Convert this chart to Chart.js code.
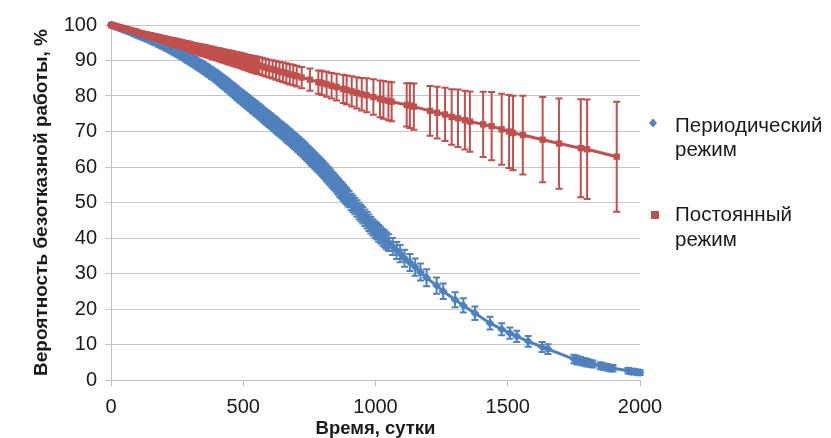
<!DOCTYPE html>
<html>
<head>
<meta charset="utf-8">
<script src="https://cdn.jsdelivr.net/npm/chart.js@4.4.1/dist/chart.umd.min.js"></script>
<style>
  html, body { margin: 0; padding: 0; background: #fff; }
  #wrap { width: 831px; height: 438px; position: relative; }
</style>
</head>
<body>
<div id="wrap"><canvas id="c" width="831" height="438"></canvas></div>
<script>
// Периодический режим: время (сутки), вероятность (%), полуширина доверительного интервала (%)
const periodicDays = [
  0, 5, 10, 15, 20, 25, 30, 35, 40, 45, 50, 55, 60, 65, 70, 75, 80, 85, 90, 95,
  100, 105, 110, 115, 120, 125, 130, 135, 140, 145, 150, 155, 160, 165, 170, 175, 180, 185, 190, 195,
  200, 205, 210, 215, 220, 225, 230, 235, 240, 245, 250, 255, 260, 265, 270, 275, 280, 285, 290, 295,
  300, 305, 310, 315, 320, 325, 330, 335, 340, 345, 350, 355, 360, 365, 370, 375, 380, 385, 390, 395,
  400, 405, 410, 415, 420, 425, 430, 435, 440, 445, 450, 455, 460, 465, 470, 475, 480, 485, 490, 495,
  500, 505, 510, 515, 520, 525, 530, 535, 540, 545, 550, 555, 560, 565, 570, 575, 580, 585, 590, 595,
  600, 605, 610, 615, 620, 625, 630, 635, 640, 645, 650, 655, 660, 665, 670, 675, 680, 685, 690, 695,
  700, 705, 710, 715, 720, 725, 730, 735, 740, 745, 750, 755, 760, 765, 770, 775, 780, 785, 790, 795,
  800, 805, 810, 815, 820, 825, 830, 835, 840, 845, 850, 855, 860, 865, 870, 875, 880, 885, 890, 895,
  900, 908, 915, 922, 930, 938, 945, 952, 960, 968, 975, 982, 990, 998, 1005, 1012, 1020, 1028, 1035, 1042, 1050,
  1065, 1080, 1093, 1110, 1130, 1150, 1170,
  1193, 1231, 1256, 1301, 1332, 1376, 1433, 1477, 1508, 1534, 1577, 1630, 1652,
  1750, 1762, 1775, 1788, 1800, 1811, 1822, 1850, 1862, 1875, 1887, 1898, 1955, 1968, 1980, 1990, 2000
];
const periodicProb = [
  100, 99.9, 99.8, 99.6, 99.5, 99.4, 99.2, 99.1, 99.0, 98.8, 98.7, 98.5, 98.4, 98.3, 98.2, 98.0, 97.9, 97.7, 97.6, 97.4,
  97.3, 97.1, 97.0, 96.9, 96.7, 96.6, 96.5, 96.3, 96.2, 96.0, 95.9, 95.7, 95.6, 95.4, 95.3, 95.1, 94.9, 94.8, 94.6, 94.4,
  94.3, 94.1, 93.9, 93.8, 93.6, 93.4, 93.2, 93.0, 92.8, 92.6, 92.4, 92.2, 92.0, 91.8, 91.6, 91.4, 91.2, 90.9, 90.7, 90.5,
  90.3, 90.0, 89.8, 89.6, 89.4, 89.1, 88.9, 88.7, 88.5, 88.2, 88.0, 87.7, 87.5, 87.2, 86.9, 86.7, 86.4, 86.2, 85.9, 85.7,
  85.4, 85.1, 84.8, 84.5, 84.2, 83.9, 83.6, 83.3, 83.0, 82.7, 82.4, 82.1, 81.8, 81.5, 81.2, 80.8, 80.5, 80.2, 79.9, 79.6,
  79.3, 79.0, 78.7, 78.4, 78.1, 77.8, 77.5, 77.2, 76.9, 76.6, 76.3, 76.0, 75.7, 75.4, 75.1, 74.7, 74.4, 74.1, 73.8, 73.5,
  73.2, 72.9, 72.6, 72.3, 72.0, 71.6, 71.3, 71.0, 70.7, 70.4, 70.1, 69.8, 69.5, 69.1, 68.8, 68.5, 68.2, 67.8, 67.5, 67.2,
  66.9, 66.5, 66.2, 65.8, 65.5, 65.1, 64.8, 64.4, 64.0, 63.7, 63.3, 62.9, 62.5, 62.2, 61.8, 61.4, 61.0, 60.7, 60.3, 59.9,
  59.5, 59.1, 58.7, 58.2, 57.8, 57.4, 57.0, 56.5, 56.1, 55.7, 55.3, 54.8, 54.4, 53.9, 53.5, 53.1, 52.7, 52.2, 51.8, 51.3,
  50.9, 50.2, 49.6, 49.0, 48.3, 47.6, 47.0, 46.4, 45.7, 45.0, 44.3, 43.6, 43.0, 42.4, 41.9, 41.3, 40.8, 40.2, 39.7, 39.2, 38.7,
  37.6, 36.5, 35.6, 34.3, 33.1, 31.8, 30.4,
  28.8, 26.6, 25.0, 22.6, 21.0, 18.8, 16.0, 14.3, 13.2, 12.3, 10.9, 9.3, 8.7,
  5.9, 5.6, 5.4, 5.1, 4.9, 4.7, 4.5, 4.0, 3.8, 3.6, 3.4, 3.3, 2.6, 2.4, 2.3, 2.2, 2.1
];
const periodicErr = [
  0, 0.1, 0.2, 0.25, 0.3, 0.35, 0.4, 0.42, 0.45, 0.48, 0.5, 0.52, 0.55, 0.58, 0.6, 0.62, 0.65, 0.68, 0.7, 0.72,
  0.75, 0.78, 0.8, 0.8, 0.8, 0.82, 0.85, 0.85, 0.85, 0.88, 0.9, 0.92, 0.95, 0.95, 0.95, 0.98, 1.0, 1.02, 1.05, 1.05,
  1.05, 1.08, 1.1, 1.1, 1.1, 1.12, 1.15, 1.18, 1.2, 1.2, 1.2, 1.22, 1.25, 1.25, 1.25, 1.28, 1.3, 1.3, 1.3, 1.32,
  1.35, 1.35, 1.35, 1.38, 1.4, 1.4, 1.4, 1.42, 1.45, 1.45, 1.45, 1.48, 1.5, 1.5, 1.5, 1.52, 1.55, 1.55, 1.55, 1.58,
  1.6, 1.6, 1.6, 1.62, 1.65, 1.65, 1.65, 1.68, 1.7, 1.7, 1.7, 1.72, 1.75, 1.75, 1.75, 1.78, 1.8, 1.8, 1.8, 1.8,
  1.8, 1.82, 1.85, 1.85, 1.85, 1.88, 1.9, 1.9, 1.9, 1.9, 1.9, 1.92, 1.95, 1.95, 1.95, 1.95, 1.95, 1.98, 2.0, 2.0,
  2.0, 2.0, 2.0, 2.02, 2.05, 2.05, 2.05, 2.05, 2.05, 2.05, 2.05, 2.08, 2.1, 2.1, 2.1, 2.1, 2.1, 2.1, 2.1, 2.1,
  2.1, 2.12, 2.15, 2.15, 2.15, 2.15, 2.15, 2.15, 2.15, 2.15, 2.15, 2.18, 2.2, 2.2, 2.2, 2.2, 2.2, 2.2, 2.2, 2.2,
  2.2, 2.2, 2.2, 2.2, 2.2, 2.2, 2.2, 2.2, 2.2, 2.2, 2.2, 2.22, 2.25, 2.25, 2.25, 2.25, 2.25, 2.25, 2.25, 2.25,
  2.25, 2.28, 2.3, 2.3, 2.3, 2.3, 2.3, 2.3, 2.3, 2.3, 2.3, 2.3, 2.3, 2.32, 2.33, 2.35, 2.35, 2.35, 2.35, 2.35, 2.35,
  2.4, 2.4, 2.4, 2.4, 2.4, 2.4, 2.4,
  2.4, 2.3, 2.2, 2.1, 2.0, 1.9, 1.8, 1.7, 1.6, 1.6, 1.5, 1.4, 1.4,
  1.2, 1.2, 1.1, 1.1, 1.1, 1.0, 1.0, 1.0, 0.9, 0.9, 0.9, 0.9, 0.8, 0.8, 0.7, 0.7, 0.7
];

// Постоянный режим
const constantDays = [
  0, 5, 10, 15, 20, 25, 30, 35, 40, 45, 50, 55, 60, 65, 70, 75, 80, 85, 90, 95,
  100, 105, 110, 115, 120, 125, 130, 135, 140, 145, 150, 155, 160, 165, 170, 175, 180, 185, 190, 195,
  200, 205, 210, 215, 220, 225, 230, 235, 240, 245, 250, 255, 260, 265, 270, 275, 280, 285, 290, 295,
  300, 305, 310, 315, 320, 325, 330, 335, 340, 345, 350, 355, 360, 365, 370, 375, 380, 385, 390, 395,
  400, 405, 410, 415, 420, 425, 430, 435, 440, 445, 450, 455, 460, 465, 470, 475, 480, 485, 490, 495,
  500, 505, 510, 515, 520, 525, 530, 535, 540, 545, 550, 555, 560,
  572, 585, 598, 611, 624, 637, 650, 663, 676, 689,
  702, 721, 752, 784, 797, 815, 834, 853, 878, 891,
  910, 929, 948, 967, 992, 1017, 1030, 1049, 1061, 1118, 1130, 1145,
  1206, 1233, 1263, 1288, 1312, 1338, 1357, 1407, 1439, 1477, 1505, 1520, 1557, 1632, 1694, 1776, 1800, 1912
];
const constantProb = [
  100, 99.9, 99.8, 99.7, 99.6, 99.5, 99.4, 99.3, 99.2, 99.1, 99.0, 98.9, 98.8, 98.7, 98.6, 98.5, 98.4, 98.3, 98.2, 98.1,
  97.9, 97.8, 97.7, 97.6, 97.5, 97.4, 97.3, 97.2, 97.1, 97.0, 96.9, 96.8, 96.7, 96.6, 96.5, 96.4, 96.3, 96.2, 96.1, 96.0,
  95.9, 95.8, 95.7, 95.6, 95.5, 95.4, 95.3, 95.2, 95.1, 95.0, 94.9, 94.8, 94.7, 94.6, 94.5, 94.4, 94.3, 94.2, 94.1, 94.0,
  93.9, 93.7, 93.6, 93.5, 93.4, 93.3, 93.2, 93.1, 93.0, 92.9, 92.8, 92.7, 92.6, 92.5, 92.4, 92.3, 92.2, 92.1, 92.0, 91.9,
  91.8, 91.7, 91.6, 91.5, 91.4, 91.3, 91.2, 91.1, 91.0, 90.9, 90.8, 90.7, 90.6, 90.5, 90.4, 90.3, 90.2, 90.1, 90.0, 89.9,
  89.8, 89.6, 89.5, 89.4, 89.3, 89.2, 89.1, 89.0, 88.9, 88.8, 88.7, 88.6, 88.5,
  88.3, 88.0, 87.7, 87.5, 87.2, 86.9, 86.7, 86.4, 86.1, 85.9,
  85.6, 85.2, 84.6, 83.9, 83.7, 83.3, 82.9, 82.5, 82.0, 81.7,
  81.3, 80.9, 80.5, 80.2, 79.7, 79.2, 78.9, 78.6, 78.4, 77.5, 77.3, 77.0,
  75.8, 75.3, 74.8, 74.1, 73.7, 73.2, 72.8, 72.0, 71.5, 70.6, 70.0, 69.6, 69.0, 67.7, 66.6, 65.3, 65.0, 62.9
];
const constantErr = [
  0, 0.03, 0.05, 0.08, 0.1, 0.13, 0.15, 0.18, 0.2, 0.23, 0.25, 0.28, 0.3, 0.33, 0.35, 0.38, 0.4, 0.43, 0.45, 0.48,
  0.5, 0.53, 0.55, 0.58, 0.6, 0.63, 0.65, 0.68, 0.7, 0.73, 0.75, 0.78, 0.8, 0.8, 0.8, 0.83, 0.85, 0.85, 0.85, 0.88,
  0.9, 0.93, 0.95, 0.98, 1.0, 1.03, 1.05, 1.08, 1.1, 1.1, 1.1, 1.13, 1.15, 1.15, 1.15, 1.18, 1.2, 1.23, 1.25, 1.28,
  1.3, 1.33, 1.35, 1.38, 1.4, 1.43, 1.45, 1.48, 1.5, 1.53, 1.55, 1.58, 1.6, 1.6, 1.6, 1.63, 1.65, 1.65, 1.65, 1.68,
  1.7, 1.73, 1.75, 1.78, 1.8, 1.83, 1.85, 1.88, 1.9, 1.93, 1.95, 1.98, 2.0, 2.0, 2.0, 2.03, 2.05, 2.05, 2.05, 2.08,
  2.1, 2.13, 2.15, 2.18, 2.2, 2.23, 2.25, 2.28, 2.3, 2.33, 2.35, 2.38, 2.4,
  2.45, 2.5, 2.5, 2.55, 2.6, 2.7, 2.75, 2.8, 2.85, 2.9,
  2.9, 3.0, 3.15, 3.3, 3.4, 3.5, 3.6, 3.8, 4.0, 4.1,
  4.25, 4.4, 4.6, 4.8, 5.0, 5.2, 5.3, 5.4, 5.5, 6.1, 6.3, 6.5,
  7.0, 7.3, 7.5, 7.8, 8.1, 8.3, 8.5, 9.2, 9.6, 10.0, 10.3, 10.5, 11.1, 12.0, 12.7, 13.8, 14.0, 15.5
];

const xTicks = [0, 500, 1000, 1500, 2000];
const yTicks = [0, 10, 20, 30, 40, 50, 60, 70, 80, 90, 100];

const legendItems = [
  { lines: ['Периодический', 'режим'], color: '#4F81BD', shape: 'diamond' },
  { lines: ['Постоянный', 'режим'], color: '#C0504D', shape: 'square' }
];

const FONT = '"Liberation Sans", Arial, sans-serif';
const BLUE = '#4F81BD';
const RED = '#C0504D';
const TEXT = '#1a1a1a';

function toPoints(xs, ys) {
  return xs.map((x, i) => ({ x: x, y: ys[i] }));
}

// vertical error bars with caps, drawn right after their own dataset
const errorBars = {
  id: 'errorBars',
  afterDatasetDraw(chart, args) {
    const ds = chart.data.datasets[args.index];
    if (!ds.errors) return;
    const ctx = chart.ctx;
    const xs = chart.scales.x, ys = chart.scales.y;
    ctx.save();
    ctx.strokeStyle = ds.borderColor;
    ctx.lineWidth = 2;
    ds.data.forEach((p, i) => {
      const e = ds.errors[i];
      if (!e) return;
      const px = xs.getPixelForValue(p.x);
      const top = ys.getPixelForValue(p.y + e);
      const bot = ys.getPixelForValue(p.y - e);
      ctx.beginPath();
      ctx.moveTo(px, top); ctx.lineTo(px, bot);
      ctx.moveTo(px - 3.5, top); ctx.lineTo(px + 3.5, top);
      ctx.moveTo(px - 3.5, bot); ctx.lineTo(px + 3.5, bot);
      ctx.stroke();
    });
    ctx.restore();
  }
};

// legend on the right with two-line captions
const sideLegend = {
  id: 'sideLegend',
  afterDraw(chart) {
    const ctx = chart.ctx;
    const rows = [
      { mark: [653, 123], base: [132, 156] },
      { mark: [655, 215], base: [221, 246] }
    ];
    ctx.save();
    ctx.font = '20.5px ' + FONT;
    ctx.textBaseline = 'alphabetic';
    ctx.textAlign = 'left';
    legendItems.forEach((item, k) => {
      const [mx, my] = rows[k].mark;
      ctx.fillStyle = item.color;
      ctx.beginPath();
      if (item.shape === 'diamond') {
        ctx.moveTo(mx, my - 4.5);
        ctx.lineTo(mx + 4, my);
        ctx.lineTo(mx, my + 4.5);
        ctx.lineTo(mx - 4, my);
        ctx.closePath();
      } else {
        ctx.rect(mx - 4, my - 4, 8, 8);
      }
      ctx.fill();
      ctx.fillStyle = TEXT;
      item.lines.forEach((t, j) => ctx.fillText(t, 675, rows[k].base[j]));
    });
    ctx.restore();
  }
};

new Chart(document.getElementById('c'), {
  type: 'scatter',
  data: {
    datasets: [
      {
        label: 'Постоянный режим',
        data: toPoints(constantDays, constantProb),
        errors: constantErr,
        showLine: true,
        borderColor: RED,
        backgroundColor: RED,
        borderWidth: 3,
        pointStyle: 'rect',
        pointRadius: 4.5,
        pointBorderWidth: 0,
        tension: 0,
        clip: false
      },
      {
        label: 'Периодический режим',
        data: toPoints(periodicDays, periodicProb),
        errors: periodicErr,
        showLine: true,
        borderColor: BLUE,
        backgroundColor: BLUE,
        borderWidth: 3,
        pointStyle: 'rectRot',
        pointRadius: 4.5,
        pointBorderWidth: 0,
        tension: 0,
        clip: false
      }
    ]
  },
  options: {
    responsive: false,
    animation: false,
    devicePixelRatio: 1,
    layout: { padding: { left: 0, right: 191, top: 25, bottom: 0 } },
    plugins: { legend: { display: false }, tooltip: { enabled: false } },
    scales: {
      x: {
        type: 'linear',
        min: 0, max: 2000,
        afterBuildTicks(scale) { scale.ticks = xTicks.map(v => ({ value: v })); },
        afterFit(scale) { scale.height = 58; },
        ticks: { color: TEXT, font: { family: FONT, size: 20 }, padding: 9, maxRotation: 0,
                 callback: v => String(v) },
        grid: { drawOnChartArea: false, drawTicks: true, tickLength: 6, color: '#bfbfbf', lineWidth: 1 },
        border: { display: true, color: '#bfbfbf', width: 1 },
        title: { display: true, text: 'Время, сутки', color: TEXT,
                 font: { family: FONT, size: 18.5, weight: 'bold', lineHeight: 1 },
                 padding: { top: 0, bottom: 0 } }
      },
      y: {
        min: 0, max: 100,
        afterBuildTicks(scale) { scale.ticks = yTicks.map(v => ({ value: v })); },
        afterFit(scale) { scale.width = 111; },
        ticks: { color: TEXT, font: { family: FONT, size: 20 }, padding: 8, callback: v => String(v) },
        grid: { drawTicks: true, tickLength: 6, color: '#c6c6c6', lineWidth: 1 },
        border: { display: true, color: '#bfbfbf', width: 1 },
        title: { display: true, text: 'Вероятность безотказной работы, %', color: TEXT,
                 font: { family: FONT, size: 19, weight: 'bold', lineHeight: 1 },
                 padding: { top: 32.5, bottom: 0 } }
      }
    }
  },
  plugins: [errorBars, sideLegend]
});
</script>
</body>
</html>
